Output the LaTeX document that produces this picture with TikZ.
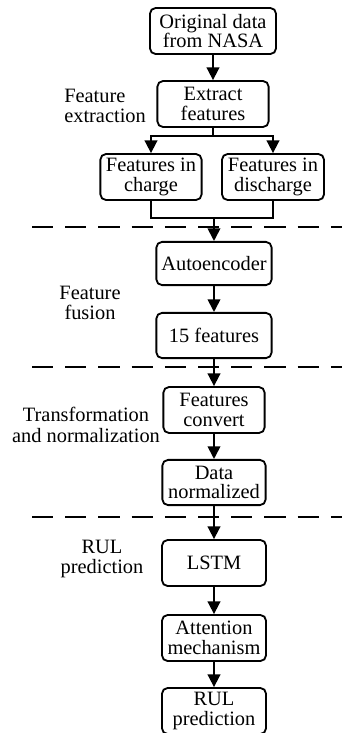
\documentclass[tikz,border=0pt]{standalone}
\usepackage{fontspec}
\setmainfont{Liberation Serif}
\usetikzlibrary{arrows.meta}

\begin{document}
\begin{tikzpicture}[x=0.025cm,y=-0.025cm,
	box/.style={draw,line width=1.3pt,rounded corners=4pt,align=center,inner sep=1pt,
		minimum height=1.15cm,font=\fontsize{14.5}{14}\selectfont},
	lbl/.style={align=center,inner sep=0pt,font=\fontsize{14.5}{14.5}\selectfont},
	link/.style={line width=1.3pt},
	arr/.style={line width=1.3pt,-{Triangle[length=9pt,width=9pt]}},
	sep/.style={line width=1.8pt,dash pattern=on 0.53cm off 0.3cm}]
	\useasboundingbox (0,0) rectangle (342,733);

	% boxes
	\node[box,minimum width=3.15cm] (orig) at (213,31) {Original data\\from NASA};
	\node[box,minimum width=2.78cm] (extract) at (213,104) {Extract\\features};
	\node[box,minimum width=2.53cm] (charge) at (151,177) {Features in\\charge};
	\node[box,minimum width=2.55cm] (discharge) at (273,177) {Features in\\discharge};
	\node[box,minimum width=2.88cm,minimum height=1.08cm] (auto) at (214,263.5) {Autoencoder};
	\node[box,minimum width=2.88cm,minimum height=1.13cm] (fifteen) at (214,335.5) {15 features};
	\node[box,minimum width=2.53cm] (convert) at (214,410) {Features\\convert};
	\node[box,minimum width=2.58cm,minimum height=1.13cm] (normal) at (214,482.5) {Data\\normalized};
	\node[box,minimum width=2.6cm] (lstm) at (214,563) {LSTM};
	\node[box,minimum width=2.6cm] (attn) at (214,638) {Attention\\mechanism};
	\node[box,minimum width=2.6cm] (rul) at (214,711) {RUL\\prediction};

	% stage labels
	\node[lbl,align=left,anchor=west] (lextract) at (64,106) {Feature\\extraction};
	\node[lbl] (lfusion) at (90,303) {Feature\\fusion};
	\node[lbl] (ltrans) at (86,425) {Transformation\\and normalization};
	\node[lbl] (lrul) at (102,559) {RUL\\prediction};

	% separators
	\draw[sep] (32,227) -- (342,227);
	\draw[sep] (32,367) -- (342,367);
	\draw[sep] (32,517) -- (342,517);

	% arrows
	\draw[arr] (orig) -- (extract);
	\draw[link] (extract.south) -- ++(0,8) coordinate (split);
	\draw[arr] (split) -| (charge.north);
	\draw[arr] (split) -| (discharge.north);
	\coordinate (join) at (214,218);
	\draw[link] (charge.south) |- (join) -| (discharge.south);
	\draw[arr] (join) -- (auto.north);
	\draw[arr] (auto) -- (fifteen);
	\draw[arr] (fifteen) -- (convert);
	\draw[arr] (convert) -- (normal);
	\draw[arr] (normal) -- (lstm);
	\draw[arr] (lstm) -- (attn);
	\draw[arr] (attn) -- (rul);
\end{tikzpicture}
\end{document}
